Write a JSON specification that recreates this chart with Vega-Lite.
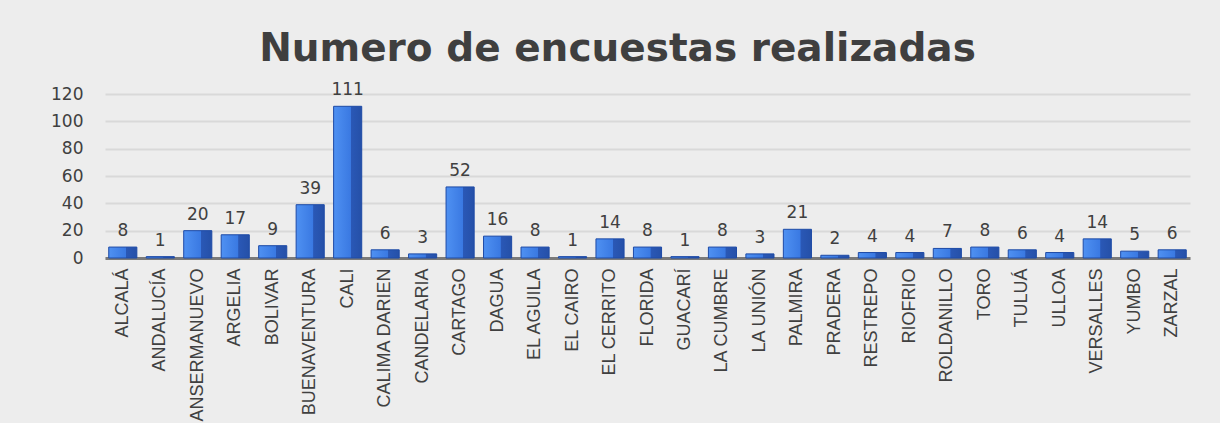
{
  "$schema": "https://vega.github.io/schema/vega-lite/v6.json",
  "width": 1085,
  "height": 164,
  "autosize": {"type": "none"},
  "padding": {"left": 105, "top": 94, "right": 30, "bottom": 165},
  "background": "#ededed",
  "title": {
    "text": "Numero de encuestas realizadas",
    "font": "DejaVu Sans",
    "fontSize": 39,
    "fontWeight": "bold",
    "color": "#3f3f3f",
    "anchor": "middle",
    "offset": 12,
    "dx": -30
  },
  "data": {
    "values": [
      {"municipio": "ALCALÁ", "encuestas": 8},
      {"municipio": "ANDALUCÍA", "encuestas": 1},
      {"municipio": "ANSERMANUEVO", "encuestas": 20},
      {"municipio": "ARGELIA", "encuestas": 17},
      {"municipio": "BOLIVAR", "encuestas": 9},
      {"municipio": "BUENAVENTURA", "encuestas": 39},
      {"municipio": "CALI", "encuestas": 111},
      {"municipio": "CALIMA DARIEN", "encuestas": 6},
      {"municipio": "CANDELARIA", "encuestas": 3},
      {"municipio": "CARTAGO", "encuestas": 52},
      {"municipio": "DAGUA", "encuestas": 16},
      {"municipio": "EL AGUILA", "encuestas": 8},
      {"municipio": "EL CAIRO", "encuestas": 1},
      {"municipio": "EL CERRITO", "encuestas": 14},
      {"municipio": "FLORIDA", "encuestas": 8},
      {"municipio": "GUACARÍ", "encuestas": 1},
      {"municipio": "LA CUMBRE", "encuestas": 8},
      {"municipio": "LA UNIÓN", "encuestas": 3},
      {"municipio": "PALMIRA", "encuestas": 21},
      {"municipio": "PRADERA", "encuestas": 2},
      {"municipio": "RESTREPO", "encuestas": 4},
      {"municipio": "RIOFRIO", "encuestas": 4},
      {"municipio": "ROLDANILLO", "encuestas": 7},
      {"municipio": "TORO", "encuestas": 8},
      {"municipio": "TULUÁ", "encuestas": 6},
      {"municipio": "ULLOA", "encuestas": 4},
      {"municipio": "VERSALLES", "encuestas": 14},
      {"municipio": "YUMBO", "encuestas": 5},
      {"municipio": "ZARZAL", "encuestas": 6}
    ]
  },
  "encoding": {
    "x": {
      "field": "municipio",
      "type": "nominal",
      "sort": null,
      "scale": {"paddingInner": 0.25, "paddingOuter": 0.1},
      "axis": {
        "title": null,
        "labelAngle": -90,
        "labelFont": "Liberation Sans",
        "labelFontSize": 18,
        "labelColor": "#404040",
        "labelPadding": 10,
        "ticks": false,
        "domainColor": "#7a7a7a",
        "domainWidth": 3,
        "grid": false
      }
    },
    "y": {
      "field": "encuestas",
      "type": "quantitative",
      "scale": {"domain": [0, 120], "nice": false},
      "axis": {
        "title": null,
        "values": [0, 20, 40, 60, 80, 100, 120],
        "labelFont": "DejaVu Sans",
        "labelFontSize": 17,
        "labelColor": "#404040",
        "labelPadding": 22,
        "ticks": false,
        "domain": false,
        "gridColor": "#d9d9d9",
        "gridWidth": 2
      }
    }
  },
  "layer": [
    {
      "mark": {
        "type": "bar",
        "stroke": "#1d4aa6",
        "strokeWidth": 1,
        "color": {
          "gradient": "linear",
          "x1": 0, "x2": 1, "y1": 0, "y2": 0,
          "stops": [
            {"offset": 0, "color": "#4f91f2"},
            {"offset": 0.6, "color": "#3a79e2"},
            {"offset": 0.62, "color": "#2a58b6"},
            {"offset": 1, "color": "#2550a8"}
          ]
        }
      }
    },
    {
      "mark": {
        "type": "text",
        "baseline": "bottom",
        "dy": -7,
        "font": "DejaVu Sans",
        "fontSize": 17,
        "color": "#404040"
      },
      "encoding": {"text": {"field": "encuestas", "type": "quantitative"}}
    }
  ],
  "config": {"view": {"stroke": null}}
}
